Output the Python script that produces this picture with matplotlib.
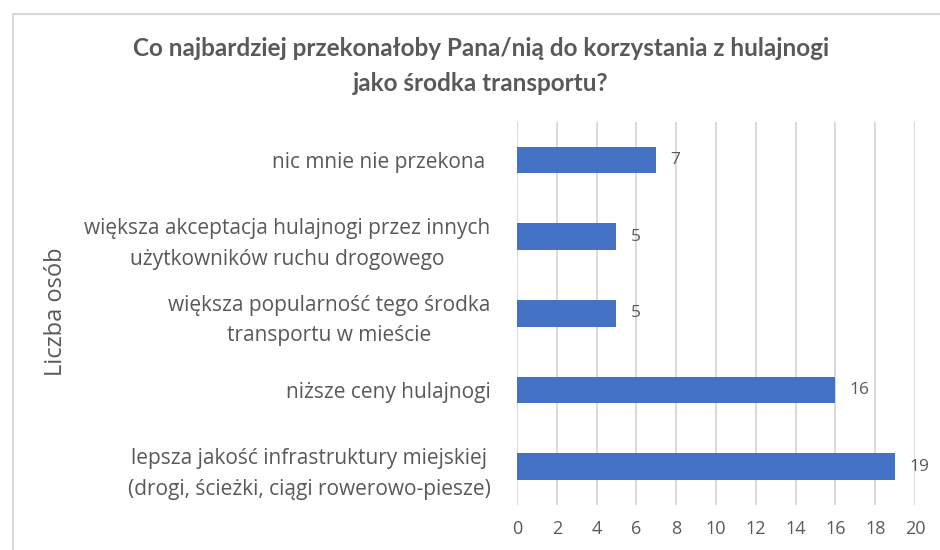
import matplotlib.pyplot as plt
from matplotlib.patches import Rectangle

categories = [
    'lepsza jakość infrastruktury miejskiej\n(drogi, ścieżki, ciągi rowerowo-piesze)',
    'niższe ceny hulajnogi',
    'większa popularność tego środka\ntransportu w mieście',
    'większa akceptacja hulajnogi przez innych\nużytkowników ruchu drogowego',
    'nic mnie nie przekona ',
]
values = [19, 16, 5, 5, 7]
x_ticks = list(range(0, 21, 2))

title = 'Co najbardziej przekonałoby Pana/nią do korzystania z hulajnogi\njako środka transportu?'
grey = '#595959'
bar_color = '#4472C4'

plt.rcParams['font.family'] = ['Open Sans', 'DejaVu Sans']

fig = plt.figure(figsize=(9.4, 5.5), dpi=100)
ax = fig.add_axes([0.55, 0.0818, 0.4234, 0.697])

# chart frame (cropped on right and bottom)
fig.patches.append(Rectangle((12.5 / 940, -0.1), 1.2, 1 - 13.5 / 550 + 0.1,
                             transform=fig.transFigure, fill=False,
                             edgecolor='#D9D9D9', linewidth=1.5))

ypos = range(len(categories))
ax.barh(ypos, values, height=0.35, color=bar_color, zorder=3)
for y, v in zip(ypos, values):
    ax.text(v + 0.7, y, str(v), va='center', ha='left', fontsize=12.5, color=grey)

ax.set_xlim(0, 20)
ax.set_ylim(-0.5, len(categories) - 0.5)
ax.set_xticks(x_ticks)
ax.set_yticks(list(ypos))
ax.set_yticklabels(categories, fontsize=15, color=grey, multialignment='center',
                   linespacing=1.6)
ax.tick_params(axis='y', length=0, pad=19)
ax.tick_params(axis='x', length=0, pad=11, labelsize=13, labelcolor=grey)
ax.grid(axis='x', color='#D9D9D9', linewidth=1.4, zorder=0)
for s in ax.spines.values():
    s.set_visible(False)

fig.text(56 / 940, 1 - 312 / 550, 'Liczba osób', rotation=90, ha='center', va='center',
         fontsize=17, color=grey)
fig.text(481 / 940, 1 - 66 / 550, title, ha='center', va='center', fontsize=17.5,
         fontweight='bold', color=grey, family=['Lato', 'DejaVu Sans'], linespacing=1.6)

fig.savefig('out.png', dpi=100)
